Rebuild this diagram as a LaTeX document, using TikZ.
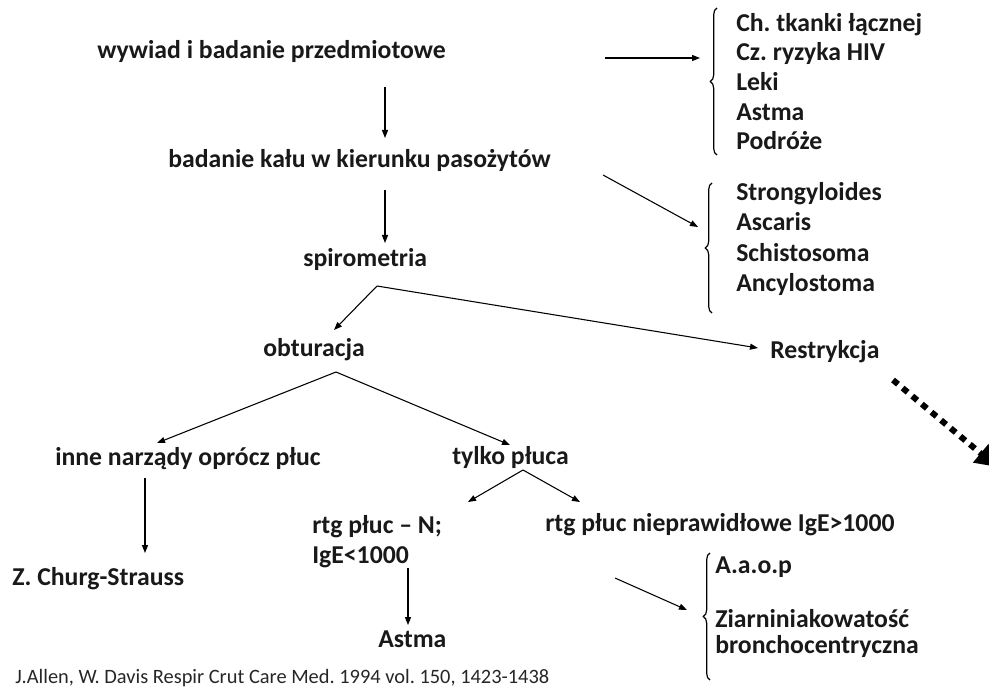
\documentclass[tikz,border=0pt]{standalone}
\usepackage{fontspec}
\setmainfont{Carlito}
\usetikzlibrary{arrows.meta,decorations.pathreplacing}
\frenchspacing
\begin{document}
\begin{tikzpicture}[x=0.75pt,y=-0.75pt,
  lbl/.style={inner sep=0pt, font=\fontsize{19.3}{23}\selectfont\bfseries, anchor=base west, text=black!90},
  cite/.style={inner sep=0pt, font=\fontsize{15.3}{18}\selectfont, anchor=base west, text=black!85},
  arr/.style={draw, line width=0.8pt, -{Triangle[length=6pt,width=4.5pt]}},
  brc/.style={draw, line width=0.9pt, decorate, decoration={brace, amplitude=5pt}},
  dotarr/.style={draw, line width=4.5pt, dash pattern=on 4.9pt off 4.5pt, -{Triangle[length=16pt,width=17pt]}}
]
\useasboundingbox (0,0) rectangle (989,688);
% main column
\node[lbl] (wyw) at (97,59) {wywiad i badanie przedmiotowe};
\node[lbl] (kal) at (168,168) {badanie kału w kierunku pasożytów};
\node[lbl] (spi) at (303,266) {spirometria};
\node[lbl] (obt) at (263,356) {obturacja};
\node[lbl] (res) at (770,358) {Restrykcja};
\node[lbl] (inn) at (55,465) {inne narządy oprócz płuc};
\node[lbl] (tyl) at (452,464) {tylko płuca};
\node[lbl] (rtn) at (312,533) {rtg płuc – N;};
\node[lbl] (ige) at (312,563) {IgE<1000};
\node[lbl] (rtp) at (545,531) {rtg płuc nieprawidłowe IgE>1000};
\node[lbl] (chu) at (12,585) {Z. Churg-Strauss};
\node[lbl] (ast) at (378,647) {Astma};
\node[cite] (cit) at (15,683) {J.Allen, W. Davis Respir Crut Care Med. 1994 vol. 150, 1423-1438};
% list 1
\node[lbl] (l1a) at (736,32) {Ch. tkanki łącznej};
\node[lbl] (l1b) at (736,61) {Cz. ryzyka HIV};
\node[lbl] (l1c) at (736,91) {Leki};
\node[lbl] (l1d) at (736,121) {Astma};
\node[lbl] (l1e) at (736,150) {Podróże};
% list 2
\node[lbl] (l2a) at (736,201) {Strongyloides};
\node[lbl] (l2b) at (736,231) {Ascaris};
\node[lbl] (l2c) at (736,261) {Schistosoma};
\node[lbl] (l2d) at (736,291) {Ancylostoma};
% list 3
\node[lbl] (l3a) at (715,573) {A.a.o.p};
\node[lbl] (l3b) at (715,627) {Ziarniniakowatość};
\node[lbl] (l3c) at (715,653) {bronchocentryczna};
% braces
\coordinate (b1t) at (717,8);   \coordinate (b1b) at (717,155);
\coordinate (b2t) at (712,183); \coordinate (b2b) at (712,313);
\coordinate (b3t) at (710,553); \coordinate (b3b) at (710,680);
\draw[brc] (b1b) -- (b1t);
\draw[brc] (b2b) -- (b2t);
\draw[brc] (b3b) -- (b3t);
% connector points
\coordinate (wyws) at (385,87);   \coordinate (kaln) at (385,138);
\coordinate (wywe) at (605,58);   \coordinate (b1in) at (700,58);
\coordinate (kals) at (385,190);  \coordinate (spin) at (385,243);
\coordinate (kale) at (603,175);  \coordinate (b2in) at (698,227);
\coordinate (spis) at (377,286);  \coordinate (obtn) at (334,330);
\coordinate (resw) at (758,348);
\coordinate (obts) at (336,372);  \coordinate (innn) at (157,443);
\coordinate (tyln) at (510,445);
\coordinate (inns) at (145,478);  \coordinate (chun) at (145,553);
\coordinate (tyls) at (523,470);  \coordinate (rtnn) at (468,502);
\coordinate (rtpn) at (580,502);
\coordinate (iges) at (408,568);  \coordinate (astn) at (408,625);
\coordinate (rtps) at (615,578);  \coordinate (b3in) at (687,610);
\coordinate (ress) at (893,380);  \coordinate (off) at (997,467);
% arrows
\draw[arr] (wyws) -- (kaln);
\draw[arr] (wywe) -- (b1in);
\draw[arr] (kals) -- (spin);
\draw[arr] (kale) -- (b2in);
\draw[arr] (spis) -- (obtn);
\draw[arr] (spis) -- (resw);
\draw[arr] (obts) -- (innn);
\draw[arr] (obts) -- (tyln);
\draw[arr] (inns) -- (chun);
\draw[arr] (tyls) -- (rtnn);
\draw[arr] (tyls) -- (rtpn);
\draw[arr] (iges) -- (astn);
\draw[arr] (rtps) -- (b3in);
\draw[dotarr] (ress) -- (off);
\end{tikzpicture}
\end{document}
